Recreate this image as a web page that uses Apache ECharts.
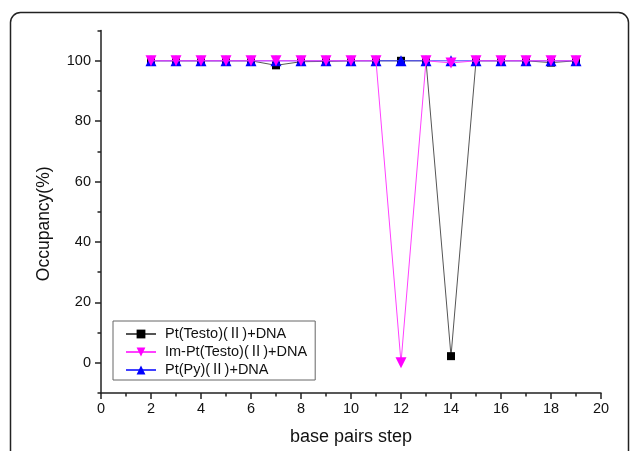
<!DOCTYPE html>
<html>
<head>
<meta charset="utf-8">
<script src="https://cdn.jsdelivr.net/npm/echarts@6/dist/echarts.min.js"></script>
<style>
  html, body { margin: 0; padding: 0; background: #fff; }
  #chart { width: 630px; height: 451px; }
</style>
</head>
<body>
<div id="chart"></div>
<script>
// base pair steps (x) and occupancy (%) for each complex
const steps = [2, 3, 4, 5, 6, 7, 8, 9, 10, 11, 12, 13, 14, 15, 16, 17, 18, 19]
const ptTesto = [100, 100, 100, 100, 100, 98.5, 99.7, 99.8, 100, 100, 100, 100, 2.2, 100, 100, 100, 99.4, 100]
const imPtTesto = [100, 100, 100, 100, 100, 100, 100, 100, 100, 100, 0, 100, 99.3, 100, 100, 100, 100, 100]
const ptPy = [100, 100, 100, 100, 100, 100, 100, 100, 100, 100, 100, 100, 100, 100, 100, 100, 100, 100]

const names = ['Pt(Testo)(Ⅱ)+DNA', 'Im-Pt(Testo)(Ⅱ)+DNA', 'Pt(Py)(Ⅱ)+DNA']
const yMajor = [0, 20, 40, 60, 80, 100]
const yMinor = [-10, 10, 30, 50, 70, 90, 110]
const xMinor = [1, 3, 5, 7, 9, 11, 13, 15, 17, 19]

const font = "'Liberation Sans', Arial, 'Noto Sans CJK SC', sans-serif"
const axisColor = '#222'

const pairs = arr => steps.map((s, i) => [s, arr[i]])

const chart = echarts.init(document.getElementById('chart'))

const option = {
  animation: false,
  textStyle: { fontFamily: font, color: axisColor },
  graphic: [{
    type: 'rect',
    silent: true,
    z: -10,
    shape: { x: 10.5, y: 12.5, width: 618, height: 480, r: 10 },
    style: { fill: 'none', stroke: '#222', lineWidth: 1.5 }
  }],
  grid: {
    left: 101,
    right: 29,
    top: 30.6,
    bottom: 54.3,
    containLabel: false
  },
  legend: {
    data: names,
    orient: 'vertical',
    left: 113,
    top: 321,
    borderColor: '#666',
    borderWidth: 1,
    borderRadius: 0,
    padding: [5, 8, 2, 12],
    itemGap: 2,
    itemWidth: 30,
    itemHeight: 11,
    textStyle: { fontSize: 14.5, lineHeight: 16, color: '#111', fontFamily: font, padding: [0, 0, 0, 4] }
  },
  xAxis: [{
    type: 'value',
    min: 0,
    max: 20,
    interval: 2,
    name: 'base pairs step',
    nameLocation: 'middle',
    nameGap: 35,
    nameTextStyle: { fontSize: 18, color: '#111', fontFamily: font },
    axisLine: { show: true, onZero: false, lineStyle: { color: axisColor, width: 1.5 } },
    axisTick: { show: true, length: 6, lineStyle: { color: axisColor, width: 1.5 } },
    axisLabel: { margin: 9, fontSize: 14.5, color: '#111' },
    splitLine: { show: false }
  }, {
    type: 'value',
    position: 'bottom',
    min: 0,
    max: 20,
    interval: 1,
    axisLine: { show: false, onZero: false },
    axisTick: { show: true, length: 3.5, customValues: xMinor, lineStyle: { color: axisColor, width: 1.5 } },
    axisLabel: { show: false },
    splitLine: { show: false }
  }],
  yAxis: [{
    type: 'value',
    min: -10,
    max: 110,
    interval: 10,
    name: 'Occupancy(%)',
    nameLocation: 'middle',
    nameRotate: 90,
    nameGap: 48,
    nameTextStyle: { fontSize: 17.5, color: '#111', fontFamily: font, padding: [0, 24, 0, 0] },
    axisLine: { show: true, onZero: false, lineStyle: { color: axisColor, width: 1.5 } },
    axisTick: { show: true, length: 6, customValues: yMajor, lineStyle: { color: axisColor, width: 1.5 } },
    axisLabel: { margin: 10, fontSize: 14.5, color: '#111', customValues: yMajor },
    splitLine: { show: false }
  }, {
    type: 'value',
    position: 'left',
    min: -10,
    max: 110,
    interval: 10,
    axisLine: { show: false, onZero: false },
    axisTick: { show: true, length: 3.5, customValues: yMinor, lineStyle: { color: axisColor, width: 1.5 } },
    axisLabel: { show: false },
    splitLine: { show: false }
  }],
  series: [{
    name: names[0],
    type: 'line',
    z: 2,
    data: pairs(ptTesto),
    symbol: 'rect',
    symbolSize: 8,
    lineStyle: { color: '#555', width: 1 },
    itemStyle: { color: '#000' }
  }, {
    name: names[1],
    type: 'line',
    z: 4,
    data: pairs(imPtTesto),
    symbol: 'triangle',
    symbolRotate: 180,
    symbolSize: 11,
    lineStyle: { color: '#ff40ff', width: 1 },
    itemStyle: { color: '#ff00ff' }
  }, {
    name: names[2],
    type: 'line',
    z: 3,
    data: pairs(ptPy),
    symbol: 'triangle',
    symbolSize: 11,
    lineStyle: { color: '#4040ff', width: 1 },
    itemStyle: { color: '#0000ff' }
  }]
}

chart.setOption(option)
</script>
</body>
</html>
